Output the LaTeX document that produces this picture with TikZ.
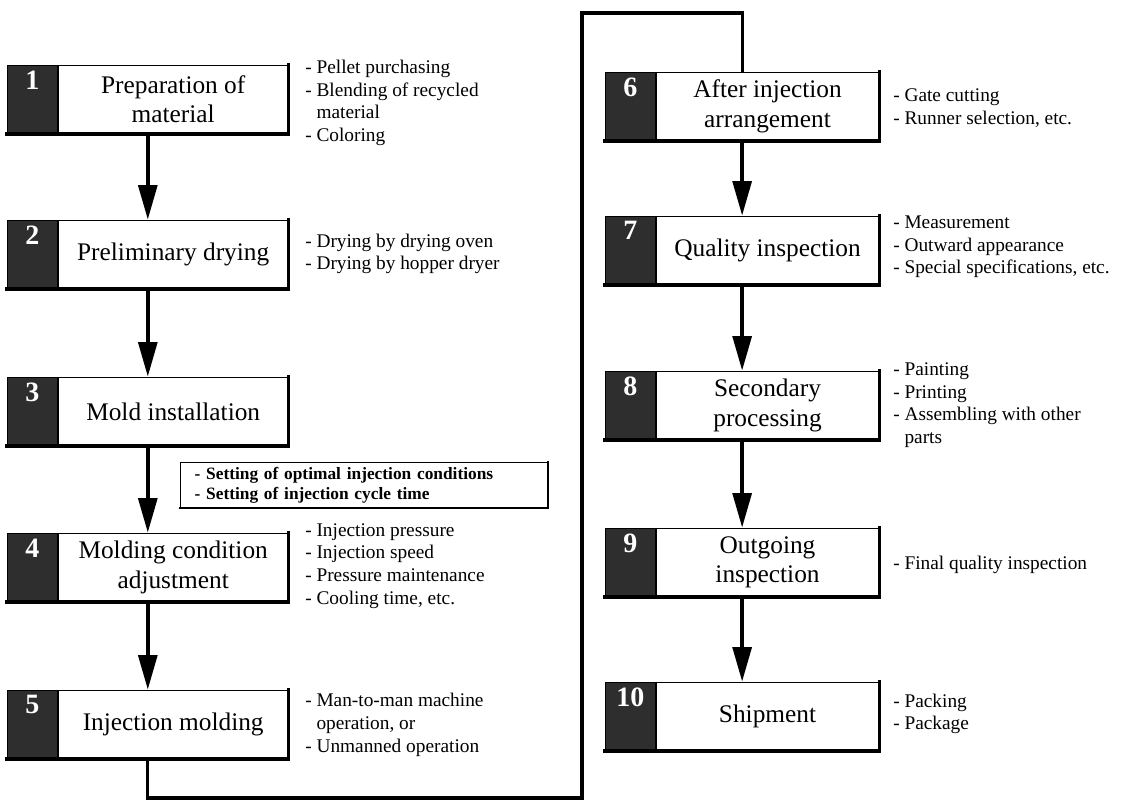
\documentclass[tikz,border=0pt]{standalone}
\usepackage{fontspec}
\setmainfont{Liberation Serif}
\usetikzlibrary{arrows.meta, positioning, fit}

\begin{document}
\begin{tikzpicture}[x=0.75pt, y=-0.75pt,
    numbox/.style={rectangle, draw, line width=0.6pt, fill=black!82, minimum width=37.5pt, minimum height=51pt, inner sep=0pt, anchor=north west},
    numtext/.style={anchor=north, yshift=-4pt, inner sep=0pt, text=white, font=\fontsize{21}{21}\selectfont\bfseries},
    stepbox/.style={rectangle, draw, line width=0.6pt, fill=white, minimum height=51pt, inner sep=0pt, align=center, font=\fontsize{19}{22}\selectfont},
    stepL/.style={stepbox, minimum width=172.5pt},
    stepR/.style={stepbox, minimum width=167pt},
    note/.style={anchor=west, align=left, inner sep=0pt, font=\fontsize{14.5}{17}\selectfont},
    condbox/.style={rectangle, draw, line width=0.6pt, text width=254pt, inner xsep=11pt, minimum height=34.5pt, align=left, font=\fontsize{13}{15}\selectfont\bfseries},
    rim/.style={line width=2.4pt, line cap=rect},
    flow/.style={line width=3pt, -{Triangle[width=14pt,length=26pt]}},
    link/.style={line width=2.4pt, line join=miter}
  ]
  \useasboundingbox (0,0) rectangle (1138,805);

  % left column
  \node[numbox, label={[numtext]north:1}] (n1) at (7,65) {};
  \node[stepL, right=0pt of n1] (s1) {Preparation of\\material};
  \node[fit=(n1)(s1), inner sep=0pt] (f1) {};

  \node[numbox, label={[numtext]north:2}] (n2) at (7,220) {};
  \node[stepL, right=0pt of n2] (s2) {Preliminary drying};
  \node[fit=(n2)(s2), inner sep=0pt] (f2) {};

  \node[numbox, label={[numtext]north:3}] (n3) at (7,377) {};
  \node[stepL, right=0pt of n3] (s3) {Mold installation};
  \node[fit=(n3)(s3), inner sep=0pt] (f3) {};

  \node[numbox, label={[numtext]north:4}] (n4) at (7,533) {};
  \node[stepL, right=0pt of n4] (s4) {Molding condition\\adjustment};
  \node[fit=(n4)(s4), inner sep=0pt] (f4) {};

  \node[numbox, label={[numtext]north:5}] (n5) at (7,690) {};
  \node[stepL, right=0pt of n5] (s5) {Injection molding};
  \node[fit=(n5)(s5), inner sep=0pt] (f5) {};

  % right column
  \node[numbox, label={[numtext]north:6}] (n6) at (605,72) {};
  \node[stepR, right=0pt of n6] (s6) {After injection\\arrangement};
  \node[fit=(n6)(s6), inner sep=0pt] (f6) {};

  \node[numbox, label={[numtext]north:7}] (n7) at (605,216) {};
  \node[stepR, right=0pt of n7] (s7) {Quality inspection};
  \node[fit=(n7)(s7), inner sep=0pt] (f7) {};

  \node[numbox, label={[numtext]north:8}] (n8) at (605,371) {};
  \node[stepR, right=0pt of n8] (s8) {Secondary\\processing};
  \node[fit=(n8)(s8), inner sep=0pt] (f8) {};

  \node[numbox, label={[numtext]north:9}] (n9) at (605,528) {};
  \node[stepR, right=0pt of n9] (s9) {Outgoing\\inspection};
  \node[fit=(n9)(s9), inner sep=0pt] (f9) {};

  \node[numbox, label={[numtext]north:10}] (n10) at (605,682) {};
  \node[stepR, right=0pt of n10] (s10) {Shipment};
  \node[fit=(n10)(s10), inner sep=0pt] (f10) {};

  % condition box
  \node[condbox] (cond) at (364,485) {- Setting of optimal injection conditions\\- Setting of injection cycle time};

  % notes
  \node[note] (t1) at (305,103) {- Pellet purchasing\\- Blending of recycled\\\phantom{- }material\\- Coloring};
  \node[note] (t2) at (305,254) {- Drying by drying oven\\- Drying by hopper dryer};
  \node[note] (t4) at (305,566) {- Injection pressure\\- Injection speed\\- Pressure maintenance\\- Cooling time, etc.};
  \node[note] (t5) at (305,725) {- Man-to-man machine\\\phantom{- }operation, or\\- Unmanned operation};
  \node[note] (t6) at (893,108) {- Gate cutting\\- Runner selection, etc.};
  \node[note] (t7) at (893,247) {- Measurement\\- Outward appearance\\- Special specifications, etc.};
  \node[note] (t8) at (893,405) {- Painting\\- Printing\\- Assembling with other\\\phantom{- }parts};
  \node[note] (t9) at (893,565) {- Final quality inspection};
  \node[note] (t10) at (893,714) {- Packing\\- Package};

  % heavy right and bottom edges
  \draw[rim] (f1.north east) -- (f1.south east) -- (f1.south west);
  \draw[rim] (f2.north east) -- (f2.south east) -- (f2.south west);
  \draw[rim] (f3.north east) -- (f3.south east) -- (f3.south west);
  \draw[rim] (f4.north east) -- (f4.south east) -- (f4.south west);
  \draw[rim] (f5.north east) -- (f5.south east) -- (f5.south west);
  \draw[rim] (f6.north east) -- (f6.south east) -- (f6.south west);
  \draw[rim] (f7.north east) -- (f7.south east) -- (f7.south west);
  \draw[rim] (f8.north east) -- (f8.south east) -- (f8.south west);
  \draw[rim] (f9.north east) -- (f9.south east) -- (f9.south west);
  \draw[rim] (f10.north east) -- (f10.south east) -- (f10.south west);
  \draw[rim, line width=1.6pt] (cond.north east) -- (cond.south east) -- (cond.south west);

  % flow
  \draw[flow] (f1.south) -- (f2.north);
  \draw[flow] (f2.south) -- (f3.north);
  \draw[flow] (f3.south) -- (f4.north);
  \draw[flow] (f4.south) -- (f5.north);
  \draw[link] (f5.south) -- ++(0,39) -| (582,13) -| (f6.north);
  \draw[flow] (f6.south) -- (f7.north);
  \draw[flow] (f7.south) -- (f8.north);
  \draw[flow] (f8.south) -- (f9.north);
  \draw[flow] (f9.south) -- (f10.north);
\end{tikzpicture}
\end{document}
